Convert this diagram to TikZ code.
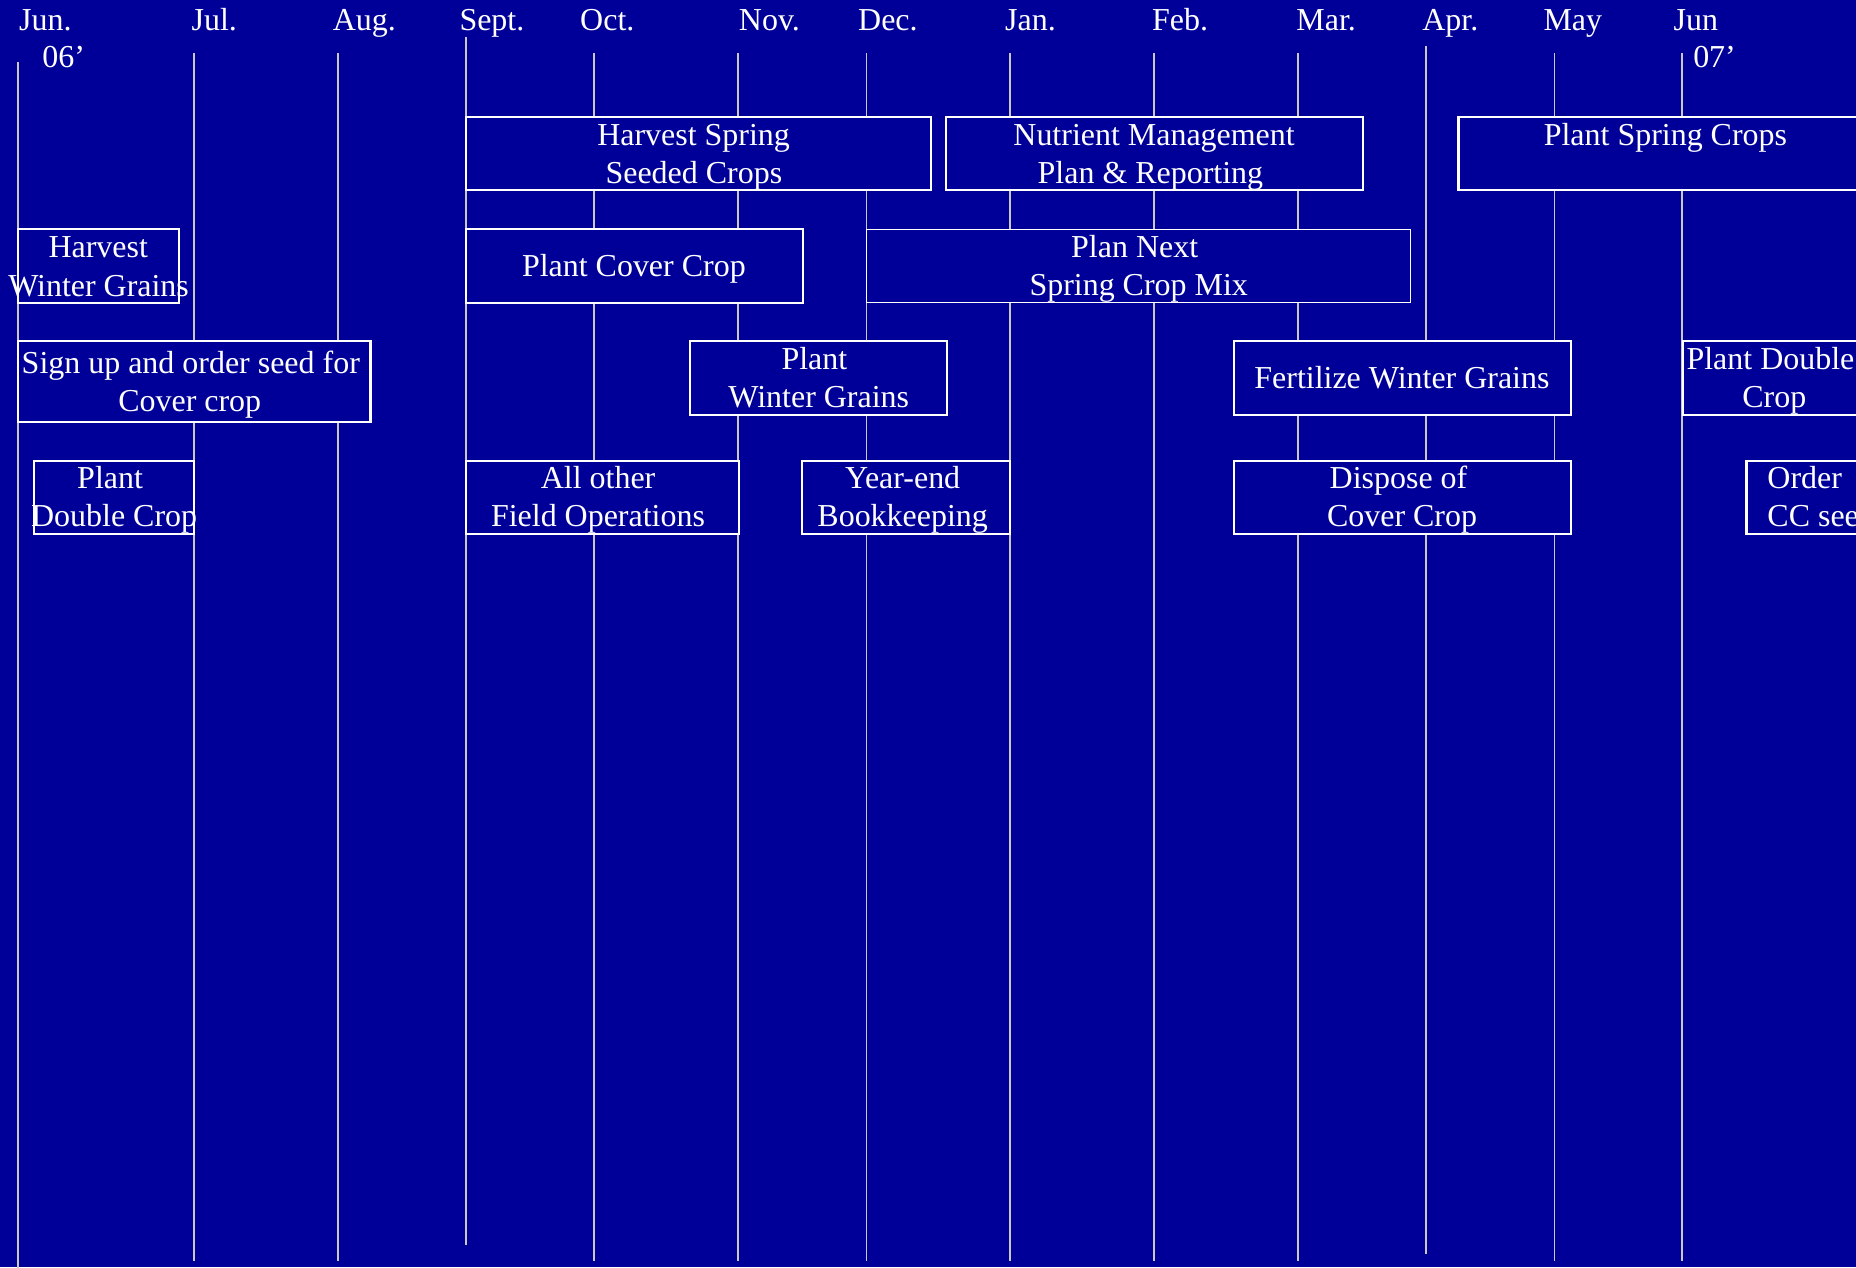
\documentclass[tikz,border=0pt]{standalone}
\usepackage{fontspec}
\setmainfont{Liberation Serif}
\usetikzlibrary{fit}
\definecolor{bg}{HTML}{000099}
\definecolor{linegray}{HTML}{C8C8C8}
\newcommand{\chartfont}{\fontsize{27pt}{32.4pt}\selectfont}
\begin{document}
\begin{tikzpicture}[x=1pt,y=1pt,
  mline/.style={draw=linegray, line width=1.5pt},
  box/.style={draw=white, line width=1.8pt, fill=bg, inner sep=0pt, outer sep=0pt},
  thinbox/.style={box, line width=1.1pt},
  txt/.style={text=white, font=\chartfont, inner sep=0pt, anchor=base},
  txtw/.style={txt, anchor=base west},
  mon/.style={text=white, font=\chartfont, inner sep=0pt, anchor=base west}]
\fill[bg] (0,0) rectangle (1568,-1070.4);
\useasboundingbox (0,0) rectangle (1568,-1070.4);
% month labels
\node[mon] (mjun) at (16,-25.6) {Jun.};
\node[mon] (mjul) at (161.7,-25.6) {Jul.};
\node[mon] (maug) at (281,-25.6) {Aug.};
\node[mon] (msep) at (388,-25.6) {Sept.};
\node[mon] (moct) at (490,-25.6) {Oct.};
\node[mon] (mnov) at (624.1,-25.6) {Nov.};
\node[mon] (mdec) at (724.8,-25.6) {Dec.};
\node[mon] (mjan) at (849,-25.6) {Jan.};
\node[mon] (mfeb) at (973.1,-25.6) {Feb.};
\node[mon] (mmar) at (1095.1,-25.6) {Mar.};
\node[mon] (mapr) at (1201.4,-25.6) {Apr.};
\node[mon] (mmay) at (1303.8,-25.6) {May};
\node[mon] (mjun2) at (1413.8,-25.6) {Jun};
\node[mon] (y06) at (35.7,-56.7) {06’};
\node[mon] (y07) at (1430.3,-57.3) {07’};
% month grid lines
\foreach \x/\t/\b in {15.5/52/1072, 164/44.7/1065.3, 285.6/44.7/1065.3, 394/31/1051.8,
  501.7/44.7/1065.3, 623.8/44.7/1065.3, 732/44.7/1065.3, 853.5/44.7/1065.3,
  975/44.7/1065.3, 1096.8/44.7/1065.3, 1205/38.6/1059.4, 1313.2/44.7/1065.3,
  1421.3/44.7/1065.3}
  \draw[mline] (\x,-\t) -- (\x,-\b);
% activity boxes
\node[box, fit={(394,-99) (786.2,-160.8)}] (hsc) {};
\node[box, fit={(799.3,-99) (1151.3,-160.8)}] (nmp) {};
\node[box, fit={(1232.2,-99) (1582,-160.8)}] (psc) {};
\node[box, fit={(15.4,-193.4) (151,-255.9)}] (hwg) {};
\node[box, fit={(394,-193.4) (678.3,-255.9)}] (pcc) {};
\node[thinbox, fit={(732,-193.6) (1191.8,-255.4)}] (pns) {};
\node[box, fit={(15.4,-288.2) (313,-356.4)}] (suo) {};
\node[box, fit={(582.8,-288.2) (800,-350.6)}] (pwg) {};
\node[box, fit={(1042.7,-288.2) (1327.1,-350.4)}] (fwg) {};
\node[box, fit={(1421.5,-288.2) (1590,-350.4)}] (pdcb) {};
\node[box, fit={(28.7,-389.3) (164,-450.8)}] (pdca) {};
\node[box, fit={(394,-389.3) (624,-450.8)}] (aof) {};
\node[box, fit={(677.6,-389.3) (853.5,-450.8)}] (yeb) {};
\node[box, fit={(1042.7,-389.3) (1327.1,-450.8)}] (dcc) {};
\node[box, fit={(1475.5,-389.3) (1590,-450.8)}] (occ) {};
% box texts
\node[txt] (t1a) at (586,-123.1) {Harvest Spring};
\node[txt] (t1b) at (586.2,-155.4) {Seeded Crops};
\node[txt] (t2a) at (975,-123) {Nutrient Management};
\node[txt] (t2b) at (971.9,-155.4) {Plan \& Reporting};
\node[txt] (t3a) at (1407,-123) {Plant Spring Crops};
\node[txt] (t4a) at (83,-217.9) {Harvest};
\node[txt] (t4b) at (83.3,-250.5) {Winter Grains};
\node[txt] (t5a) at (535.5,-233.6) {Plant Cover Crop};
\node[txt] (t6a) at (958.6,-217.3) {Plan Next};
\node[txt] (t6b) at (962,-249.8) {Spring Crop Mix};
\node[txt] (t7a) at (161.2,-315.3) {Sign up and order seed for};
\node[txt] (t7b) at (160.3,-347.6) {Cover crop};
\node[txt] (t8a) at (688,-312.3) {Plant};
\node[txt] (t8b) at (691.7,-344.6) {Winter Grains};
\node[txt] (t9a) at (1184.4,-328.3) {Fertilize Winter Grains};
\node[txt] (t10a) at (1495.7,-312.3) {Plant Double};
\node[txt] (t10b) at (1499,-344) {Crop};
\node[txt] (t11a) at (93,-412.8) {Plant};
\node[txt] (t11b) at (96.4,-445) {Double Crop};
\node[txt] (t12a) at (505.3,-412.8) {All other};
\node[txt] (t12b) at (505.2,-445) {Field Operations};
\node[txt] (t13a) at (762.6,-412.8) {Year-end};
\node[txt] (t13b) at (762.6,-445) {Bookkeeping};
\node[txt] (t14a) at (1181.5,-412.8) {Dispose of};
\node[txt] (t14b) at (1184.5,-445) {Cover Crop};
\node[txtw] (t15a) at (1493,-412.8) {Order};
\node[txtw] (t15b) at (1493,-445) {CC seed};
\end{tikzpicture}
\end{document}
